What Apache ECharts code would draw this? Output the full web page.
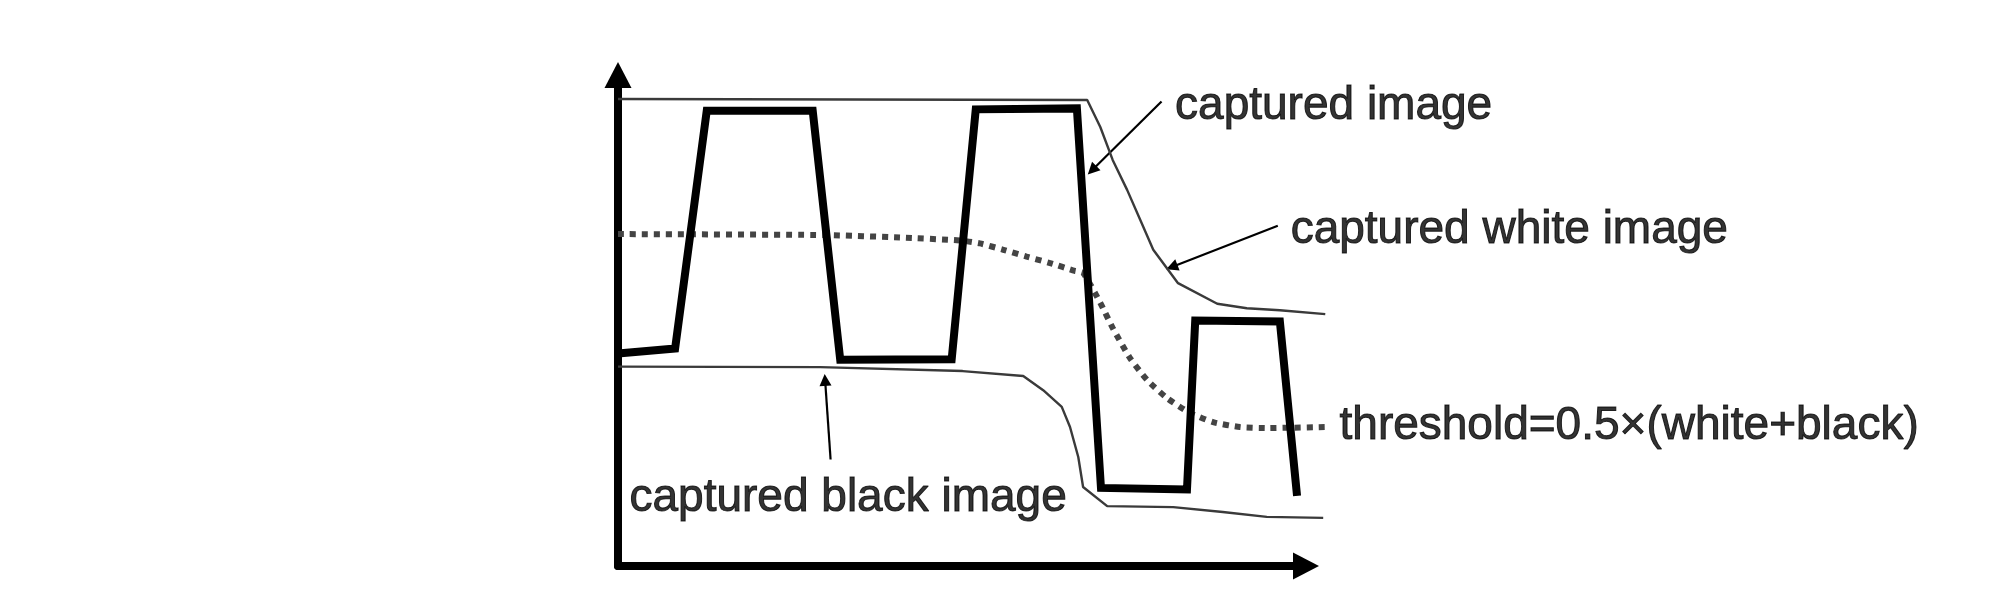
<!DOCTYPE html>
<html>
<head>
<meta charset="utf-8">
<script src="https://cdn.jsdelivr.net/npm/echarts@6/dist/echarts.min.js"></script>
<style>
html,body{margin:0;padding:0;background:#fff;}
#chart{width:1999px;height:610px;}
</style>
</head>
<body>
<div id="chart"></div>
<script>
// position (0..100 along x axis) / intensity (0..100 along y axis)
const capturedWhite = [[0,95.1],[68.2,94.9],[70.1,89.4],[71.9,82.7],[74.0,76.6],[75.9,70.5],[77.8,64.4],[81.4,57.6],[87.1,53.4],[91.4,52.5],[96.2,52.1],[102.8,51.3]];
const capturedBlack = [[0,40.6],[29.4,40.5],[50.1,39.7],[58.9,38.7],[61.8,35.8],[64.5,32.4],[65.7,28.3],[66.9,22.2],[67.6,16.1],[71.1,12.2],[80.7,12.0],[87.9,11.0],[94.3,10.0],[102.5,9.8]];
const capturedImage = [[0,43.3],[8.3,44.3],[12.9,92.7],[28.3,92.7],[32.3,42.0],[48.5,42.1],[52.0,93.0],[66.7,93.2],[70.2,15.9],[82.7,15.6],[83.9,50.0],[96.2,49.8],[98.7,14.3]];
const threshold = [[0,67.6],[30.2,67.4],[41.0,66.9],[49.7,66.3],[52.6,65.7],[56.0,64.4],[59.4,63.0],[62.8,61.7],[66.4,60.1],[67.6,59.7],[70.1,53.6],[71.9,48.5],[74.4,42.4],[76.9,37.9],[79.8,34.2],[83.1,31.2],[86.5,29.3],[90.4,28.3],[94.3,28.1],[102.8,28.3]];

const labelTexts = ['captured image','captured white image','threshold=0.5×(white+black)','captured black image'];
const labelAnchors = [[80.9,93.6],[97.7,68.3],[104.8,28.4],[1.6,13.7]];
const arrowLines = [
  [[79.0,94.6],[68.9,80.6]],
  [[95.9,69.3],[80.5,60.9]],
  [[30.9,21.7],[30.1,37.9]]
];

const AXIS_MAX = 100;   // visible axes span
const DATA_MAX = 103;   // data layer span (same scale, wider grid)

const chart = echarts.init(document.getElementById('chart'));
const plotLeft = 618, plotRightEdge = 1306, plotTop = 75, plotBottom = 44;
const unitPx = (plotRightEdge - plotLeft) / AXIS_MAX;
const dataRight = 1999 - (plotLeft + unitPx * DATA_MAX);

const axisLineCommon = {
  show: true,
  onZero: false,
  symbol: ['none','triangle'],
  symbolSize: [27,26],
  lineStyle: {color:'#000', width: 8}
};
const hiddenAxis = {axisLine:{show:false}, axisTick:{show:false}, axisLabel:{show:false}, splitLine:{show:false}};
chart.setOption({
  animation: false,
  backgroundColor: '#fff',
  grid: [
    {left: plotLeft, right: 1999 - plotRightEdge, top: plotTop, bottom: plotBottom, outerBoundsMode: 'none', containLabel: false},
    {left: plotLeft, right: dataRight, top: plotTop, bottom: plotBottom, outerBoundsMode: 'none', containLabel: false}
  ],
  xAxis: [
    {gridIndex:0, type:'value', min:0, max:AXIS_MAX, axisLine: axisLineCommon, axisTick:{show:false}, axisLabel:{show:false}, splitLine:{show:false}},
    Object.assign({gridIndex:1, type:'value', min:0, max:DATA_MAX}, hiddenAxis)
  ],
  yAxis: [
    {gridIndex:0, type:'value', min:0, max:100, axisLine: axisLineCommon, axisTick:{show:false}, axisLabel:{show:false}, splitLine:{show:false}},
    Object.assign({gridIndex:1, type:'value', min:0, max:100}, hiddenAxis)
  ],
  series: [
    {type:'line', xAxisIndex:1, yAxisIndex:1, name:'captured white image', data: capturedWhite, symbol:'none', clip:false, lineStyle:{color:'#3a3a3a', width:2.4}},
    {type:'line', xAxisIndex:1, yAxisIndex:1, name:'captured black image', data: capturedBlack, symbol:'none', clip:false, lineStyle:{color:'#3a3a3a', width:2.4}},
    {type:'line', xAxisIndex:1, yAxisIndex:1, name:'threshold', data: threshold, symbol:'none', clip:false, smooth:0.2, lineStyle:{color:'#444', width:6, type:[6,6], cap:'butt'}},
    {type:'line', xAxisIndex:1, yAxisIndex:1, name:'captured image', data: capturedImage, symbol:'none', clip:false, lineStyle:{color:'#000', width:8, join:'miter', cap:'butt'}},
    {type:'lines', coordinateSystem:'cartesian2d', xAxisIndex:1, yAxisIndex:1, clip:false,
      symbol:['none','triangle'], symbolSize:[10,12],
      lineStyle:{color:'#000', width:2.2, opacity:1, curveness:0},
      data: arrowLines.map(c => ({coords: c}))},
    {type:'scatter', xAxisIndex:1, yAxisIndex:1, clip:false, symbolSize:1, itemStyle:{color:'rgba(0,0,0,0)'},
      data: labelAnchors.map((p,i) => ({value: p, name: labelTexts[i]})),
      label:{show:true, position:'right', distance:0, formatter: p => p.name,
        color:'#000', fontSize:46, fontFamily:'Liberation Sans, Arial, sans-serif',
        textBorderColor:'#000', textBorderWidth:1}}
  ]
});
</script>
</body>
</html>
